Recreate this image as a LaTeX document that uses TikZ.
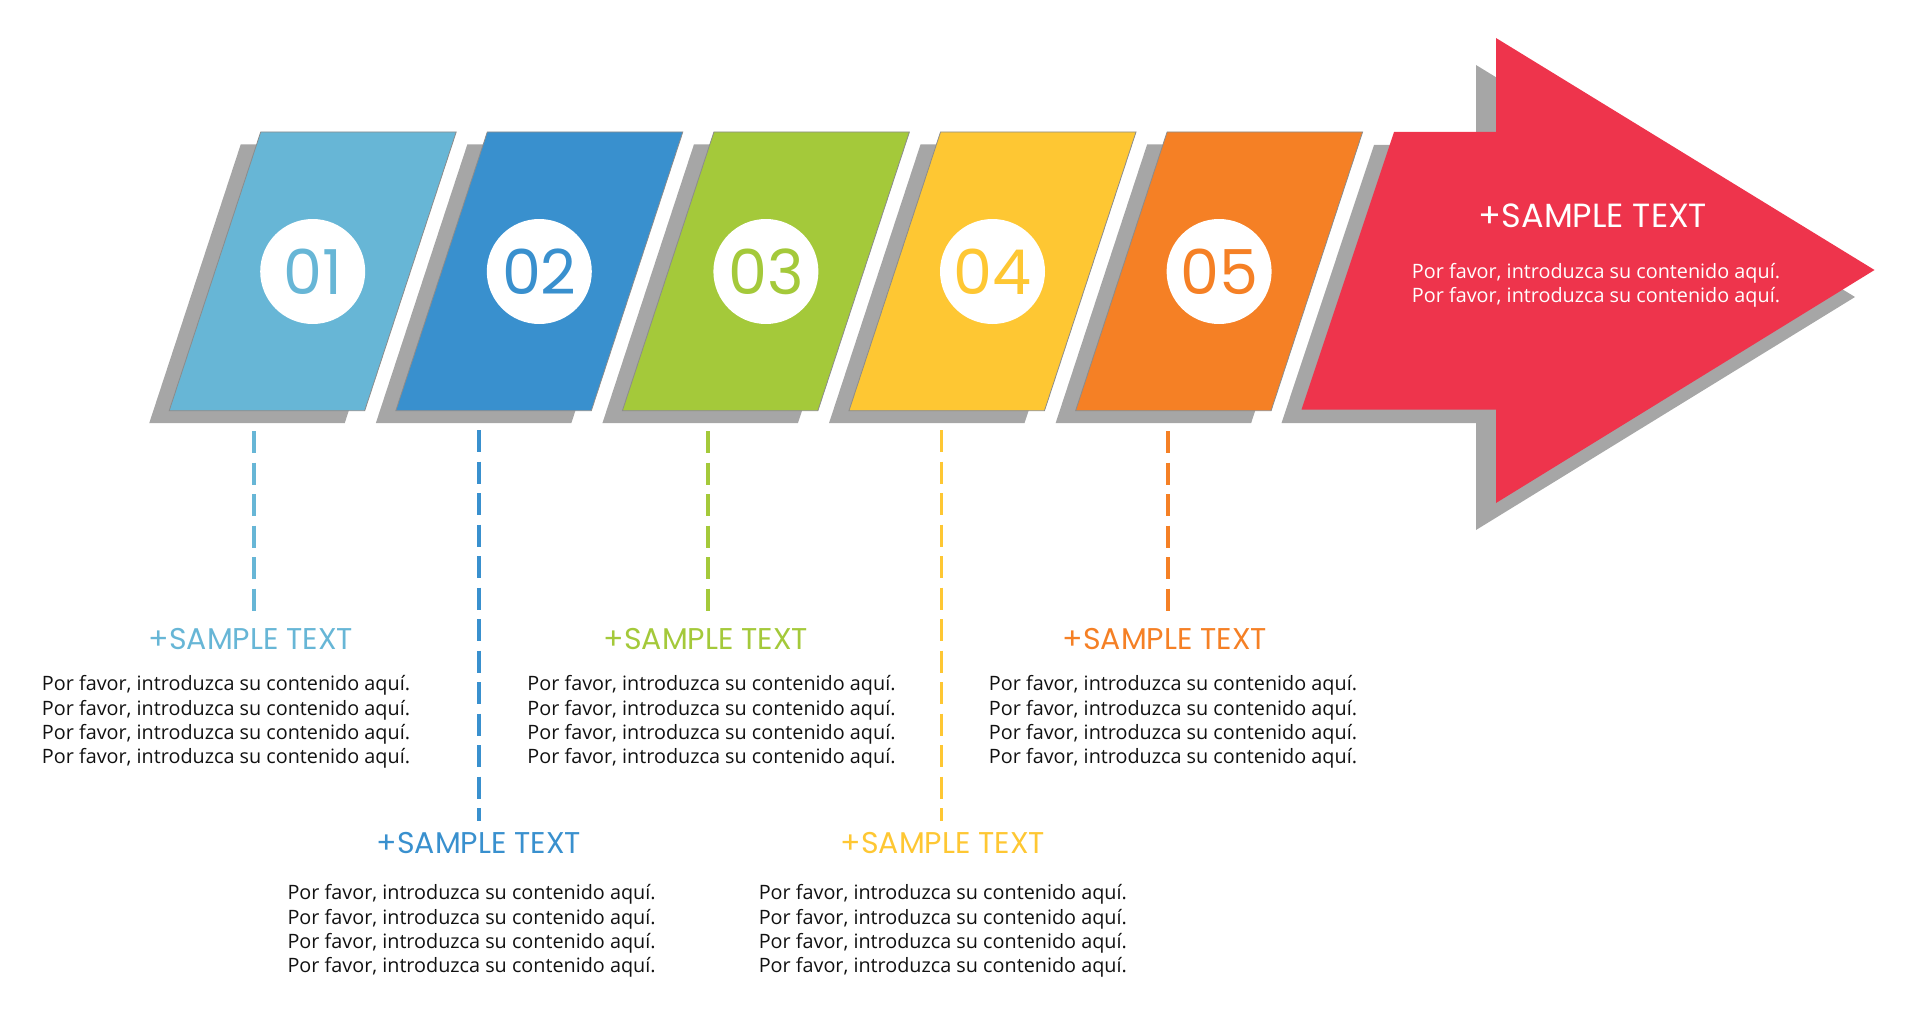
\documentclass[tikz,border=0pt]{standalone}
\usepackage{fontspec}
\setmainfont{Open Sans}
\newfontfamily\headfont{Poppins}
\definecolor{cone}{HTML}{67B6D6}
\definecolor{ctwo}{HTML}{3990CE}
\definecolor{cthree}{HTML}{A4C93A}
\definecolor{cfour}{HTML}{FEC733}
\definecolor{cfive}{HTML}{F58025}
\definecolor{cred}{HTML}{EE344C}
\definecolor{shadowgray}{HTML}{A6A6A6}
\definecolor{panelline}{HTML}{8C8C8C}
\definecolor{bodytext}{HTML}{111111}
\tikzset{
  shadowfill/.style={fill=shadowgray, draw=none},
  panel/.style={draw=panelline, line width=0.8pt},
  dashline/.style={line width=3.5pt, dash pattern=on 22pt off 9.5pt},
  headtext/.style={font=\headfont\fontsize{30}{30}\selectfont, inner sep=0pt},
  bigheadtext/.style={font=\headfont\fontsize{33.5}{33.5}\selectfont, inner sep=0pt, text=white},
  bodytxt/.style={font=\fontsize{19.8}{24.4}\selectfont, align=left, inner sep=0pt, text=bodytext},
  numcircle/.style={circle, fill=white, minimum size=105pt, inner sep=0pt, font=\headfont\fontsize{62}{62}\selectfont},
}
\begin{document}
\begin{tikzpicture}[x=1pt,y=-1pt]
\useasboundingbox (0,0) rectangle (1912,1014);

% shadows of panels
\foreach \i in {0,...,4}{
  \pgfmathsetmacro{\tx}{260.7+226.6*\i}
  \fill[shadowfill] (\tx-20,144.5) -- (\tx+175.5,144.5) -- (\tx+84,423.2) -- (\tx-111.5,423.2) -- cycle;
}
% red arrow shadow
\fill[shadowfill] (1374,145) -- (1476,145) -- (1476,65) -- (1855,297) -- (1476,530) -- (1476,423) -- (1281.5,423) -- cycle;

% panels
\foreach \i/\c in {0/cone,1/ctwo,2/cthree,3/cfour,4/cfive}{
  \pgfmathsetmacro{\tx}{260.7+226.6*\i}
  \filldraw[panel, fill=\c] (\tx,132) -- (\tx+195.5,132) -- (\tx+104,410.7) -- (\tx-91.5,410.7) -- cycle;
}
% red arrow
\fill[cred] (1394,132) -- (1496,132) -- (1496,38) -- (1874.5,270) -- (1496,503) -- (1496,409.5) -- (1301.5,409.5) -- cycle;

% number circles
\node[numcircle, text=cone]   (n1) at (312.7,271.5) {01};
\node[numcircle, text=ctwo]   (n2) at (539.3,271.5) {02};
\node[numcircle, text=cthree] (n3) at (765.9,271.5) {03};
\node[numcircle, text=cfour]  (n4) at (992.5,271.5) {04};
\node[numcircle, text=cfive]  (n5) at (1219.1,271.5) {05};

% arrow text
\node[bigheadtext] (ah) at (1593,216) {+SAMPLE TEXT};
\node[bodytxt, text=white] (ab) at (1596,285) {Por favor, introduzca su contenido aquí.\\Por favor, introduzca su contenido aquí.};

% headings
\node[headtext, text=cone]   (h1) at (251,639) {+SAMPLE TEXT};
\node[headtext, text=ctwo]   (h2) at (479,843) {+SAMPLE TEXT};
\node[headtext, text=cthree] (h3) at (706,639) {+SAMPLE TEXT};
\node[headtext, text=cfour]  (h4) at (943,843) {+SAMPLE TEXT};
\node[headtext, text=cfive]  (h5) at (1165,639) {+SAMPLE TEXT};

% body blocks
\newcommand{\pfline}{Por favor, introduzca su contenido aquí.}
\node[bodytxt] (b1) at (226,722) {\pfline\\\pfline\\\pfline\\\pfline};
\node[bodytxt] (b2) at (471.6,931) {\pfline\\\pfline\\\pfline\\\pfline};
\node[bodytxt] (b3) at (711.5,722) {\pfline\\\pfline\\\pfline\\\pfline};
\node[bodytxt] (b4) at (942.8,931) {\pfline\\\pfline\\\pfline\\\pfline};
\node[bodytxt] (b5) at (1173,722) {\pfline\\\pfline\\\pfline\\\pfline};

% dashed connectors
\coordinate (d1a) at (254,431);   \coordinate (d1b) at (254,611);
\coordinate (d2a) at (479,430);   \coordinate (d2b) at (479,821);
\coordinate (d3a) at (708,431);   \coordinate (d3b) at (708,611);
\coordinate (d4a) at (941.5,430); \coordinate (d4b) at (941.5,821);
\coordinate (d5a) at (1168,431);  \coordinate (d5b) at (1168,611);
\draw[dashline, cone]   (d1a) -- (d1b);
\draw[dashline, ctwo]   (d2a) -- (d2b);
\draw[dashline, cthree] (d3a) -- (d3b);
\draw[dashline, cfour]  (d4a) -- (d4b);
\draw[dashline, cfive]  (d5a) -- (d5b);
\end{tikzpicture}
\end{document}
